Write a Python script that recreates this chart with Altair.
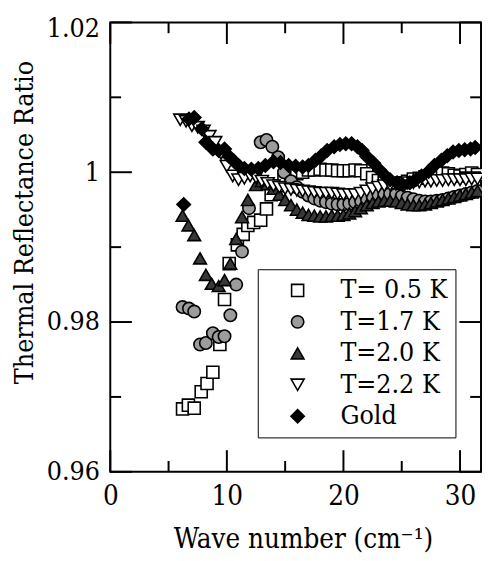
import altair as alt
import pandas as pd

# ---- data ----
sq_x = [6.2, 6.7, 7.2, 7.8, 8.3, 8.8, 9.4, 9.8, 10.2, 10.9, 11.4, 11.8, 12.3, 12.9, 13.4, 13.8, 14.4, 14.9, 15.5, 16.0,
        16.5, 17.0, 17.5, 18.0, 18.5, 19.0, 19.5, 20.0, 20.5, 21.0, 21.5, 22.0, 22.5, 23.0, 23.5, 24.0, 24.5, 25.0, 25.5,
        26.0, 26.5, 27.0, 27.5, 28.0, 28.5, 29.0, 29.5, 30.0, 30.5, 31.0, 31.5]
sq_y = [0.9684, 0.9689, 0.9685, 0.9707, 0.9718, 0.9733, 0.9770, 0.9830, 0.9878, 0.9903, 0.9917, 0.9929, 0.9933, 0.9936,
        0.9951, 0.9970, 0.9982, 0.9990, 0.9995, 0.9998, 1.0000, 1.0003, 1.0003, 1.0004, 1.0003, 1.0003, 1.0002, 1.0002,
        1.0002, 1.0003, 1.0002, 0.9998, 0.9993, 0.9989, 0.9986, 0.9985, 0.9985, 0.9986, 0.9988, 0.9991, 0.9992, 0.9994,
        0.9995, 0.9997, 0.9999, 0.9998, 0.9996, 0.9995, 0.9997, 0.9999, 0.9997]

ci_x = [6.2, 6.75, 7.2, 7.7, 8.2, 8.8, 9.3, 9.8, 10.3, 10.8, 11.3, 11.9, 12.4, 12.9, 13.4, 13.9, 14.4, 14.9, 15.5, 16.0,
        16.5, 17.0, 17.5, 18.0, 18.5, 19.0, 19.5, 20.0, 20.5, 21.0, 21.5, 22.0, 22.5, 23.0, 23.5, 24.0, 24.5, 25.0, 25.5,
        26.0, 26.5, 27.0, 27.5, 28.0, 28.5, 29.0, 29.5, 30.0, 30.5, 31.0, 31.5]
ci_y = [0.9820, 0.9818, 0.9814, 0.9770, 0.9772, 0.9785, 0.9780, 0.9781, 0.9809, 0.9850, 0.9894, 0.9952, 1.0000, 1.0040,
        1.0043, 1.0034, 1.0020, 1.0000, 0.9988, 0.9980, 0.9974, 0.9969, 0.9965, 0.9962, 0.9960, 0.9958, 0.9957, 0.9957,
        0.9958, 0.9960, 0.9962, 0.9965, 0.9968, 0.9970, 0.9971, 0.9971, 0.9970, 0.9968, 0.9966, 0.9964, 0.9962, 0.9961,
        0.9961, 0.9962, 0.9963, 0.9965, 0.9967, 0.9969, 0.9971, 0.9973, 0.9975]

tu_x = [6.2, 6.7, 7.2, 7.7, 8.2, 8.7, 9.3, 9.8, 10.3, 10.8, 11.3, 11.8, 12.5, 13.0, 13.5, 14.0, 14.5, 15.0, 15.5, 16.0,
        16.5, 17.0, 17.5, 18.0, 18.5, 19.0, 19.5, 20.0, 20.5, 21.0, 21.5, 22.0, 22.5, 23.0, 23.5, 24.0, 24.5, 25.0, 25.5,
        26.0, 26.5, 27.0, 27.5, 28.0, 28.5, 29.0, 29.5, 30.0, 30.5, 31.0, 31.5]
tu_y = [0.9942, 0.9929, 0.9916, 0.9885, 0.9863, 0.9851, 0.9848, 0.9856, 0.9878, 0.9911, 0.9940, 0.9963, 0.9983, 0.9988,
        0.9984, 0.9978, 0.9970, 0.9963, 0.9956, 0.9950, 0.9946, 0.9943, 0.9942, 0.9941, 0.9941, 0.9942, 0.9942, 0.9943,
        0.9945, 0.9948, 0.9952, 0.9956, 0.9959, 0.9961, 0.9962, 0.9962, 0.9961, 0.9959, 0.9957, 0.9956, 0.9956, 0.9957,
        0.9959, 0.9961, 0.9963, 0.9965, 0.9967, 0.9969, 0.9971, 0.9973, 0.9975]

td_x = [6.0, 6.5, 7.0, 7.5, 8.0, 8.5, 9.0, 9.5, 10.0, 10.5, 11.0, 11.5, 12.0, 12.5, 13.0, 13.5, 14.0, 14.5, 15.0, 15.5,
        16.0, 16.5, 17.0, 17.5, 18.0, 18.5, 19.0, 19.5, 20.0, 20.5, 21.0, 21.5, 22.0, 22.5, 23.0, 23.5, 24.0, 24.5, 25.0,
        25.5, 26.0, 26.5, 27.0, 27.5, 28.0, 28.5, 29.0, 29.5, 30.0, 30.5, 31.0, 31.5]
td_y = [1.0070, 1.0068, 1.0062, 1.0060, 1.0055, 1.0048, 1.0040, 1.0025, 1.0008, 0.9995, 0.9990, 0.9992, 0.9995, 0.9993,
        0.9988, 0.9985, 0.9982, 0.9980, 0.9978, 0.9977, 0.9976, 0.9975, 0.9974, 0.9973, 0.9972, 0.9972, 0.9972, 0.9971,
        0.9970, 0.9970, 0.9970, 0.9972, 0.9975, 0.9978, 0.9980, 0.9982, 0.9983, 0.9984, 0.9985, 0.9986, 0.9986, 0.9987,
        0.9988, 0.9988, 0.9989, 0.9989, 0.9990, 0.9990, 0.9990, 0.9990, 0.9991, 0.9991]

go_x = [6.3, 6.75, 7.2, 7.85, 8.2, 8.8, 9.3, 9.8, 10.2, 10.6, 11.0, 11.5, 12.1, 12.7, 13.3, 14.0, 14.6, 15.3, 15.9, 16.5,
        17.0, 17.6, 18.1, 18.6, 19.2, 19.7, 20.2, 20.7, 21.2, 21.6, 22.0, 22.6, 23.1, 23.6, 24.0, 24.6, 25.1, 25.7, 26.2,
        26.7, 27.3, 27.8, 28.4, 28.9, 29.4, 29.9, 30.4, 30.9, 31.3]
go_y = [0.9957, 1.0071, 1.0073, 1.0058, 1.0040, 1.0031, 1.0029, 1.0031, 1.0021, 1.0015, 1.0009, 1.0005, 1.0004, 1.0005,
        1.0009, 1.0014, 1.0013, 1.0009, 1.0008, 1.0007, 1.0009, 1.0016, 1.0022, 1.0029, 1.0034, 1.0037, 1.0038, 1.0038,
        1.0034, 1.0029, 1.0021, 1.0012, 1.0003, 0.9995, 0.9990, 0.9986, 0.9983, 0.9986, 0.9990, 0.9995, 1.0001, 1.0009,
        1.0016, 1.0022, 1.0027, 1.0029, 1.0030, 1.0031, 1.0033]

series_names = ["T= 0.5 K", "T=1.7 K", "T=2.0 K", "T=2.2 K", "Gold"]
series_shapes = ["square", "circle", "triangle-up", "triangle-down", "diamond"]
series_fills = ["#ffffff", "#9c9c9c", "#383838", "#ffffff", "#000000"]
series_sizes = [150, 185, 190, 190, 125]

xt_major = [0, 10, 20, 30]
xt_minor = [5, 15, 25]
yt_major = [0.96, 0.98, 1.0, 1.02]
yt_minor = [0.97, 0.99, 1.01]

# ---- tables ----
rows = []
for name, xs, ys in zip(series_names, [sq_x, ci_x, tu_x, td_x, go_x], [sq_y, ci_y, tu_y, td_y, go_y]):
    for a, b in zip(xs, ys):
        rows.append({"x": a, "y": b, "series": name})
df = pd.DataFrame(rows)

W, H = 377, 457
FONT = "DejaVu Serif Condensed, DejaVu Serif"
XT = "Wave number (cm\u207b\u00b9)"
YT = "Thermal Reflectance Ratio"
xscale = alt.Scale(domain=[0, 31.8], nice=False, zero=False)
yscale = alt.Scale(domain=[0.96, 1.02], nice=False, zero=False)

x_axis = alt.Axis(values=xt_major, ticks=False, domain=False, grid=False, labelFlush=False,
                  labelOverlap=False, labelFont=FONT, labelFontSize=28, labelColor="black",
                  labelPadding=11, title=XT, titleFont=FONT,
                  titleFontSize=28, titleFontWeight="normal", titleColor="black",
                  titleX=196, titleY=77, titleBaseline="alphabetic")
y_axis = alt.Axis(values=yt_major, format=".2~f", ticks=False, domain=False, grid=False,
                  labelOverlap=False, labelFont=FONT, labelFontSize=27, labelColor="black",
                  labelPadding=11,
                  labelOffset={"condition": {"test": "datum.value > 1.015", "value": 6}, "value": 0},
                  title=YT, titleFont=FONT,
                  titleFontSize=27, titleFontWeight="normal", titleColor="black",
                  titleX=-79, titleY=203, titleBaseline="alphabetic")

legend_def = alt.Legend(title=None)

points = alt.Chart(df).mark_point(filled=True, opacity=1, strokeWidth=1.6).encode(
    x=alt.X("x:Q", scale=xscale, axis=x_axis, title=XT),
    y=alt.Y("y:Q", scale=yscale, axis=y_axis, title=YT),
    shape=alt.Shape("series:N", scale=alt.Scale(domain=series_names, range=series_shapes), legend=legend_def),
    fill=alt.Fill("series:N", scale=alt.Scale(domain=series_names, range=series_fills), legend=legend_def),
    size=alt.Size("series:N", scale=alt.Scale(domain=series_names, range=series_sizes), legend=legend_def),
    stroke=alt.Stroke("series:N", scale=alt.Scale(domain=series_names, range=["black"] * 5), legend=legend_def),
)

def ticks(values, orient, length):
    t = pd.DataFrame({"x": values}) if orient in ("bottom", "top") else pd.DataFrame({"y": values})
    c = alt.Chart(t).mark_rule(color="black", strokeWidth=2)
    if orient == "bottom":
        return c.encode(x=alt.X("x:Q", scale=xscale, axis=x_axis, title=XT),
                        y=alt.value(H), y2=alt.value(H - length))
    if orient == "top":
        return c.encode(x=alt.X("x:Q", scale=xscale, axis=x_axis, title=XT),
                        y=alt.value(0), y2=alt.value(length))
    if orient == "left":
        return c.encode(y=alt.Y("y:Q", scale=yscale, axis=y_axis, title=YT),
                        x=alt.value(0), x2=alt.value(length))
    return c.encode(y=alt.Y("y:Q", scale=yscale, axis=y_axis, title=YT),
                    x=alt.value(W), x2=alt.value(W - length))

tick_layers = []
for o in ["bottom", "top"]:
    tick_layers.append(ticks(xt_major, o, 22))
    tick_layers.append(ticks(xt_minor, o, 11))
for o in ["left", "right"]:
    tick_layers.append(ticks(yt_major, o, 22))
    tick_layers.append(ticks(yt_minor, o, 11))

chart = alt.layer(points, *tick_layers).properties(
    width=W, height=H,
    autosize=alt.AutoSizeParams(type="none"),
    padding={"left": 104, "top": 10, "right": 1, "bottom": 85},
).configure(font=FONT).configure_view(
    stroke="black", strokeWidth=2
).configure_legend(
    orient="none", legendX=150, legendY=251, strokeColor="black", padding=8,
    labelFont=FONT, labelFontSize=27, labelColor="black", labelOffset=30,
    symbolOffset=19, rowPadding=4, symbolStrokeColor="black", symbolStrokeWidth=1.6,
    fillColor="white", labelLimit=300,
)

chart.save("out.html", embed_options={"renderer": "svg", "actions": False})
